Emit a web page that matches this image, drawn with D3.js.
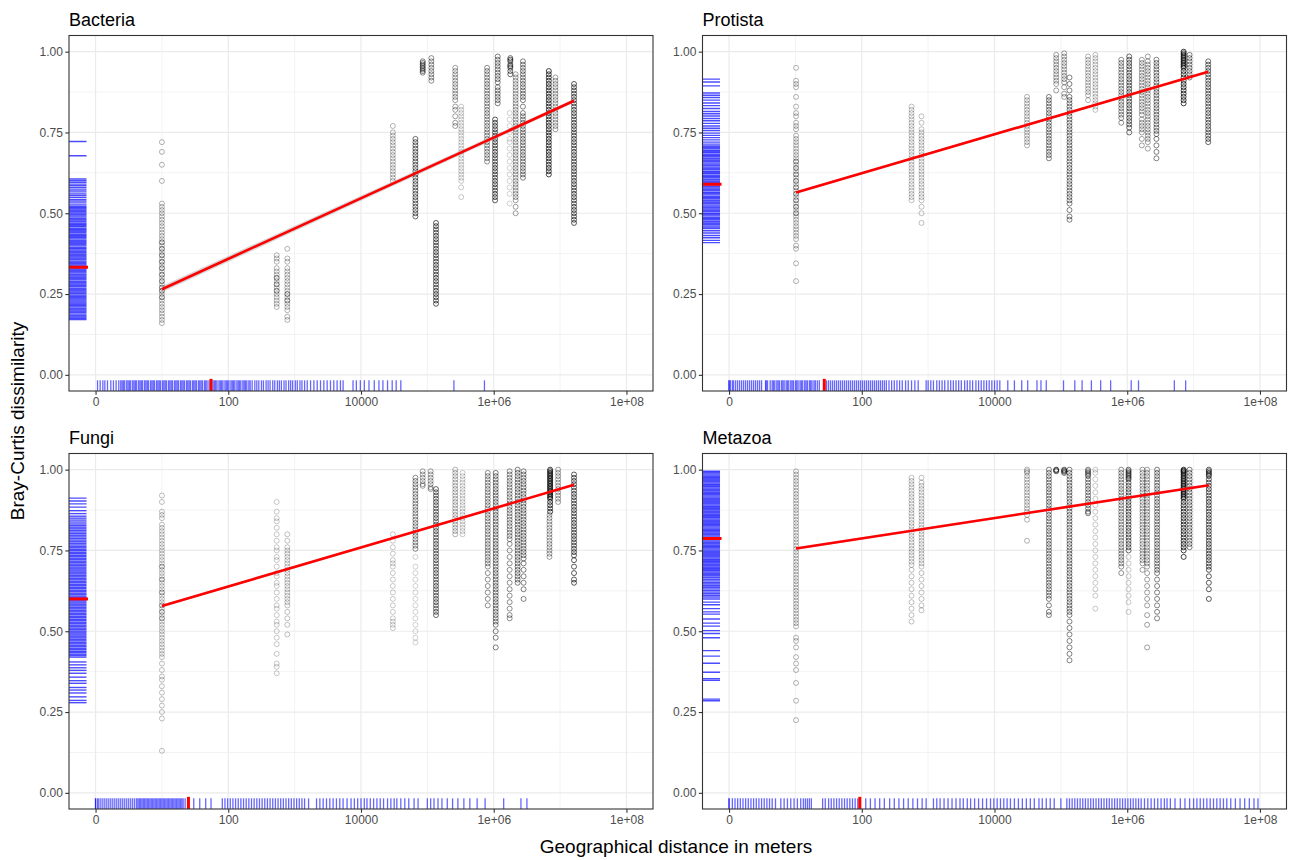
<!DOCTYPE html>
<html>
<head>
<meta charset="utf-8">
<script src="https://cdn.jsdelivr.net/npm/d3@7/dist/d3.min.js"></script>
<style>
body { margin: 0; background: #fff; }
text { font-family: "Liberation Sans", Arial, sans-serif; }
</style>
</head>
<body>
<div id="chart"></div>
<script>
// x values are log10(distance in metres), 0 = same site
var panelNames = ["Bacteria", "Protista", "Fungi", "Metazoa"];
var xTickValues = [0, 2, 4, 6, 8];
var xTickLabels = ["0", "100", "10000", "1e+06", "1e+08"];
var yTickValues = [0, 0.25, 0.5, 0.75, 1];

// point columns: [log10 distance, pairs per listed value, dissimilarity in %]
var bacteriaCols = [
  [1.00, 1.5, [72,69,65,60,53,52,51,50,49,48,47,46,45,44,43,42,41,40,39,38,37,36,35,34,33,32,31,30,29,28,27,26,25,24,23,22,21,20,19,18,17,16,27,29,31,33,35,37,39,41,26,24]],
  [2.73, 1.5, [37,36,35,33,32,31,30,29,28,27,26,25,24,23,22,21,30,28,26]],
  [2.89, 1.5, [39,36,35,33,32,31,30,29,28,27,26,25,24,23,22,21,20,18,17,25,23]],
  [4.48, 1.5, [77,75,74,73,72,71,70,69,68,67,66,65,64,63,62,61,60]],
  [4.82, 4, [73,72,71,70,69,68,67,66,65,64,63,62,61,60,59,58,57,56,55,54,53,52,51,50,49]],
  [4.93, 3, [97,96.5,96,95.5,95,94.5,94,93.5]],
  [5.06, 2.5, [98,97,96,95,94,93,92,91]],
  [5.13, 5, [47,46,45,44,43,42,41,40,39,38,37,36,35,34,33,32,31,30,29,28,27,26,25,24,23,22]],
  [5.42, 2, [95,94,93,92,91,90,89,88,87,86,85,83,82,80,78,77]],
  [5.51, 1, [83,82,81,80,79,78,77,76,75,74,73,72,71,70,69,68,67,66,65,64,63,62,61,60,58,55]],
  [5.90, 2.5, [95,94,93,92,91,90,89,88,87,86,85,84,83,82,81,80,79,78,77,76,75,74,73,72,71,70,69,68,67,66]],
  [6.02, 5, [79,78,77,76,75,74,73,72,71,70,69,68,67,66,65,64,63,62,61,60,59,58,57,56,55,54]],
  [6.06, 3, [98.5,97.5,96.5,95.5,94.5,93.5,92.5,91.5,90.5,89,88,87,86,85,84]],
  [6.25, 4, [98,97.5,97,96,95.5,95,94,93]],
  [6.24, 0.8, [81,79,77,75,73,72,70,68,66,64,62,60,58,56,53]],
  [6.33, 2, [93,92,91,90,89,88,87,86,85,84,83,82,81,80,79,78,77,76,75,74,73,72,71,70,69,68,67,66,65,64,63,62,61,60,59,58,57,56,55,54,52,50]],
  [6.44, 3, [97,96,95,94,93,92,91,90,89,88,87,86,85,83,81,80,79,78,77,76,75,74,73,72,71,70,69,68,67,66,65,64,63,62,61]],
  [6.83, 8, [94,93,92,91,90,89,88,87,86,85,84,83,82,81,80,79,78,77,76,75,74,73,72,71,70,69,68,67,66,65,64,63,62]],
  [6.93, 2, [92,91,90,89,88,87,86,85,84,83,82,81,80,79,78,77,76]],
  [7.21, 5, [90,89,88,87,86,85,84,83,82,81,80,79,78,77,76,75,74,73,72,71,70,69,68,67,66,65,64,63,62,61,60,59,58,57,56,55,54,53,52,51,50,49,48,47]]
];
var protistaCols = [
  [1.01, 1.5, [95,91,90,89,86,83,81,80,78,77,76,74,73,72,71,70,69,68,67,66,65,64,63,62,61,60,59,58,57,56,55,54,53,52,51,50,49,48,47,46,45,44,43,42,40,39,34.5,29,66,64,62,60,58,56,54,52,50]],
  [2.75, 1.2, [83,82,81,80,79,78,77,76,75,74,73,72,71,70,69,68,67,66,65,64,63,62,61,60,59,58,57,56,55,54]],
  [2.90, 1.2, [80,78,76,75,74,73,72,71,70,69,68,67,66,65,64,63,62,61,60,59,58,57,56,55,54,52,50,47]],
  [4.49, 1.5, [86,85,84,83,82,81,80,79,78,77,76,75,74,73,72,71]],
  [4.82, 3, [86,85,84,83,82,81,80,79,78,77,76,75,74,73,72,71,70,69,68,67]],
  [4.93, 2, [99,98,97,96,95,94,93,92,91,90,88]],
  [5.05, 2, [99.5,98.5,97.5,96.5,95.5,94.5,93.5,92.5,91.5,90.5,89,87,86]],
  [5.13, 3, [92,90,88,86,85,84,83,82,81,80,79,78,77,76,75,74,73,72,71,70,69,68,67,66,65,64,63,62,61,60,59,58,57,56,55,54,53,51,49,48]],
  [5.41, 1.5, [98.5,97.5,96.5,95.5,94.5,93.5,92.5,91.5,90.5,89.5,88.5,87.5,86.5,85]],
  [5.52, 1.2, [99,98,97,96,95,94,93,92,91,90,89,88,87,86,85,84,83,82]],
  [5.91, 2.5, [97.5,96.5,95.5,94.5,93.5,92.5,91.5,90.5,89.5,88.5,87.5,86.5,85.5,84.5,83.5,82.5,81.5,80.5,79.5,78]],
  [6.03, 4, [98.5,97.5,96.5,95.5,94.5,93.5,92.5,91.5,90.5,89.5,88.5,87.5,86.5,85.5,84.5,83.5,82.5,81.5,80.5,79.5,78.5,77.5,76.5,75]],
  [6.22, 2, [97.5,96.5,95.5,94.5,93.5,92.5,91.5,90.5,89.5,88.5,87.5,86.5,85.5,84.5,83.5,82.5,81.5,80.5,79,78,77,76,75,73,71]],
  [6.31, 2, [98.5,97,96,95,94,93,92,91,90,89,88,87,86,85,84,83,82,81,80,79,78,77,76,75,74,73,72,70]],
  [6.44, 3, [97.5,96.5,95.5,94.5,93.5,92.5,91.5,90.5,89.5,88.5,87.5,86.5,85.5,84.5,83.5,82.5,81.5,80.5,79.5,78.5,77.5,76.5,75.5,74.5,73,71,69,67]],
  [6.85, 8, [100,99.5,99,98.5,98,97.5,97,96.5,96,95.5,95,94,93,92,91,90,89,88,87,86,85,84]],
  [6.94, 3, [99,98,97,96,95,94,93,92]],
  [7.22, 4, [97,96,95,94,93,92,91,90,89,88,87,86,85,84,83,82,81,80,79,78,77,76,75,74,73,72]]
];
var fungiCols = [
  [1.00, 1.2, [92,90,87,86,85,83,82,81,80,79,78,77,76,75,74,73,72,71,70,69,68,67,66,65,64,63,62,61,60,59,58,57,56,55,54,53,52,51,50,49,48,47,46,45,44,43,42,40,38,36,35,33,31,29,27,25,23,13,70,66,62,58,56,54]],
  [2.73, 1, [90,87,85,84,82,80,78,76,75,73,72,70,68,67,65,64,62,60,58,57,55,53,52,50,48,46,43,40,39,37]],
  [2.89, 1.2, [80,78,76,75,74,73,72,71,70,69,68,67,66,65,64,63,62,61,60,59,58,56,54,52,49]],
  [4.48, 1, [80,78,76,74,72,71,70,68,66,64,62,60,58,56,54,53,52,51]],
  [4.82, 2.5, [97.5,96.5,95.5,94.5,93.5,92.5,91.5,90.5,89.5,88.5,87.5,86.5,85.5,84.5,83.5,82.5,81.5,80.5,79.5,78.5,77.5,76.5,75.5]],
  [4.82, 0.8, [73,70,68,66,64,62,60,58,56,54,52,50,48,46.5]],
  [4.93, 2, [99.5,98.5,97.5,96.5,95.5,95]],
  [5.05, 2, [99.5,98.5,97.5,96.5,95.5,94.5,94]],
  [5.13, 4, [94,93,92,91,90,89,88,87,86,85,84,83,82,81,80,79,78,77,76,75,74,73,72,71,70,69,68,67,66,65,64,63,62,61,60,59,58,57,56,55]],
  [5.42, 1.5, [100,99,98,97,96,95,94,93,92,91,90,89,88,87,86,85,84,83,82,81,80]],
  [5.53, 1, [99,98,97,96,95,94,93,92,91,90,89,88,87,86,85,84,83,82,81,80]],
  [5.91, 2.5, [99,98,97,96,95,94,93,92,91,90,89,88,87,86,85,84,83,82,81,80,79,78,77,76,75,74,73,72,71,70,68,66,64,62,60,58]],
  [6.03, 3, [99,98,97,96,95,94,93,92,91,90,89,88,87,86,85,84,83,82,81,80,79,78,77,76,75,74,73,72,71,70,69,68,67,66,65,64,63,62,61,60,59,58,57,56,55,54,53,52,50,48,45]],
  [6.24, 2.5, [99.5,98.5,97.5,96.5,95.5,94.5,93.5,92.5,91.5,90.5,89.5,88.5,87.5,86.5,85.5,84.5,83.5,82.5,81.5,80.5,79.5,78.5,77,75,73,71,69,67,65,63,61,59,57,55,54]],
  [6.36, 3, [100,99,98,97,96,95,94,93,92,91,90,89,88,87,86,85,84,83,82,81,80,79,78,77,76,75,74,73,72,71,70,69,68,67,66,65]],
  [6.45, 3, [99.5,98.5,97.5,96.5,95.5,94.5,93.5,92.5,91.5,90.5,89.5,88.5,87.5,86.5,85.5,84.5,83.5,82.5,81.5,80.5,79.5,78.5,77.5,76.5,75.5,74.5,73.5,72.5,71,69,67,65,63,60]],
  [6.85, 8, [100,99.5,99,98.5,98,97.5,97,96.5,96,95.5,95,94.5,94,93.5,93,92.5,92,91.5,91,90,89,88,87]],
  [6.84, 2, [86,85,84,83,82,81,80,79,78,77,76,75,74,73]],
  [6.97, 2, [100,99,98,97,96,95,94,93,92,91,90]],
  [7.21, 5, [98.5,97.5,96.5,95.5,94.5,93.5,92.5,91.5,90.5,89.5,88.5,87.5,86.5,85.5,84.5,83.5,82.5,81.5,80.5,79.5,78.5,77.5,76.5,75.5,74.5,73.5,72,70,68,66,65]]
];
var metazoaCols = [
  [1.01, 1.5, [99.5,98.5,97.5,96.5,95.5,94.5,93.5,92.5,91.5,90.5,89.5,88.5,87.5,86.5,85.5,84.5,83.5,82.5,81.5,80.5,79.5,78.5,77.5,76.5,75.5,74.5,73.5,72.5,71.5,70.5,69.5,68.5,67.5,66.5,65.5,64.5,63.5,62.5,61.5,60.5,59.5,58.5,57.5,56.5,55.5,54.5,53.5,52.5,51.5,48,47,45,42,40,38,34,28.5,22.5]],
  [2.75, 1.2, [97.5,96.5,95.5,94.5,93.5,92.5,91.5,90.5,89.5,88.5,87.5,86.5,85.5,84.5,83.5,82.5,81.5,80.5,79.5,78.5,77.5,76.5,75.5,74.5,73.5,72.5,71.5,70.5,69,67,65,63,61,59,57,55,53]],
  [2.90, 1.2, [97.5,96,95,94,93,92,91,90,89,88,87,86,85,84,83,82,81,80,79,78,77,76,75,74,73,72,71,70,68,66,64,62,60,58,56.5]],
  [4.49, 1.5, [100,99.5,99,98,97,96,95,94,93,92,91,90,89,88,87,86,84.5,78]],
  [4.82, 3, [100,99,98,97,96,95,94,93,92,91,90,89,88,87,86,85,84,83,82,81,80,79,78,77,76,75,74,73,72,71,70,69,68,67,66,65,64,63,62,61,60,58,56,55]],
  [4.93, 4, [100,99.8,99.5]],
  [5.05, 4, [100,99.7,99.4,99]],
  [5.13, 3, [100,99,98,97,96,95,94,93,92,91,90,89,88,87,86,85,84,83,82,81,80,79,78,77,76,75,74,73,72,71,70,69,68,67,66,65,64,63,62,61,60,59,58,57,56,55,53,51,49,47,45,43,41]],
  [5.41, 3, [100,99.5,99,98.5,98,97,96,95,94,93,92,91,90,89,88,87,86.5]],
  [5.52, 1, [100,99,97,95,93,91,89,87,85,83,81,79,77,75,73,71,69,67,65,63,61,57]],
  [5.91, 2.5, [100,99,98,97,96,95,94,93,92,91,90,89,88,87,86,85,84,83,82,81,80,79,78,77,76,75,74,73,72,71,70,68]],
  [6.02, 4, [100,99.5,99,98.5,98,97.5,97,96,95,94,93,92,91,90,89,88,87,86,85,84,83,82,81,80,79,78,77,76,75]],
  [6.02, 1, [73,71,69,67,65,63,61,59,56]],
  [6.23, 2, [100,99,98,97,96,95,94,93,92,91,90,89,88,87,86,85,84,83,82,81,80,79,78,77,76,75,74,73,72,71,69]],
  [6.30, 2, [100,99,98,97,96,95,94,93,92,91,90,89,88,87,86,85,84,83,82,81,80,79,78,77,76,75,74,73,72,71,70,68,66,64,62,60,58,55,52,45]],
  [6.45, 3, [100,99,98,97,96,95,94,93,92,91,90,89,88,87,86,85,84,83,82,81,80,79,78,77,76,75,74,73,72,71,70,69,68,66,64,62,60,58,56,54]],
  [6.85, 8, [100,99.7,99.4,99,98.5,98,97.5,97,96.5,96,95.5,95,94.5,94,93.5,93,92.5,92,91.5,91,90,89,88,87,86,85,84,83,82,81,80,79,78,77,76,75,73]],
  [6.94, 3, [100,99,98,97,96,95,94,93,92,91,90,89,88,87,86,85,84,83,82,81,80,79,78,77,76]],
  [7.23, 5, [100,99.5,99,98.5,98,97,96,95,94,93,92,91,90,89,88,87,86,85,84,83,82,81,80,79,78,77,76,75,74,73,72,71,70,69,67,65,63,60]]
];

// left rugs: dissimilarity in %
var bacteriaYRug = [72.2,67.8,60.6,60.1,59.6,59.0,58.5,57.9,57.2,56.6,56.0,55.5,54.9,54.3,53.8,53.2,52.6,52.1,51.7,51.3,50.9,50.5,50.1,49.6,49.2,48.8,48.3,47.9,47.5,47.0,46.6,46.2,45.8,45.3,44.9,44.5,44.1,43.6,43.2,42.8,42.4,42.0,41.5,41.1,40.7,40.3,39.9,39.4,39.0,38.6,38.2,37.8,37.3,36.9,36.5,36.1,35.7,35.2,34.8,34.4,34.0,33.6,33.1,32.7,32.3,31.9,31.5,31.0,30.6,30.2,29.8,29.4,28.9,28.5,28.1,27.7,27.3,26.8,26.4,26.0,25.6,25.2,24.7,24.3,23.9,23.5,23.1,22.6,22.2,21.8,21.4,21.0,20.5,20.1,19.7,19.3,18.8,18.3,17.9,17.5,17.1];
var protistaYRug = [91.5,90.6,89.4,87.2,86.5,85.8,85.0,84.1,83.3,82.4,81.5,80.8,80.1,79.3,78.6,77.8,77.0,76.3,75.6,74.8,74.1,73.4,72.7,72.0,71.4,70.8,70.4,70.0,69.5,69.1,68.7,68.2,67.8,67.4,66.9,66.5,66.1,65.6,65.2,64.8,64.3,63.9,63.5,63.0,62.6,62.2,61.7,61.3,60.9,60.4,60.0,59.6,59.1,58.7,58.3,57.8,57.4,57.0,56.5,56.1,55.7,55.2,54.8,54.4,53.9,53.5,53.1,52.6,52.2,51.8,51.3,50.9,50.5,50.0,49.6,49.2,48.7,48.3,47.9,47.4,47.0,46.6,46.1,45.7,45.3,44.6,43.9,43.1,42.4,41.6,40.9];
var fungiYRug = [91.2,90.3,89.4,88.4,87.3,86.4,85.6,85.0,84.4,83.8,83.2,82.7,82.2,81.7,81.2,80.7,80.2,79.7,79.2,78.7,78.2,77.7,77.2,76.7,76.2,75.8,75.3,74.9,74.4,74.0,73.5,73.1,72.6,72.2,71.7,71.3,70.8,70.4,69.9,69.5,69.0,68.6,68.1,67.7,67.2,66.8,66.3,65.9,65.4,65.0,64.5,64.1,63.6,63.2,62.7,62.3,61.8,61.4,60.9,60.5,60.0,59.6,59.1,58.7,58.2,57.8,57.3,56.9,56.4,56.0,55.5,55.1,54.6,54.2,53.7,53.3,52.8,52.4,51.9,51.5,51.0,50.6,50.1,49.7,49.2,48.8,48.3,47.9,47.4,47.0,46.5,46.1,45.6,45.2,44.7,44.3,43.8,43.4,42.9,42.5,42.0,40.5,39.6,38.7,37.9,37.0,35.8,34.7,33.9,32.6,31.8,30.9,29.7,28.6,27.9];
var metazoaYRug = [99.5,99.1,98.7,98.3,97.9,97.5,97.1,96.7,96.3,95.9,95.5,95.1,94.7,94.3,93.9,93.5,93.1,92.7,92.3,91.9,91.5,91.1,90.7,90.3,89.9,89.5,89.1,88.7,88.3,87.9,87.5,87.1,86.7,86.3,85.9,85.5,85.1,84.7,84.3,83.9,83.5,83.1,82.7,82.3,81.9,81.5,81.1,80.7,80.3,79.9,79.5,79.1,78.7,78.3,77.9,77.5,77.1,76.7,76.3,75.9,75.5,75.1,74.7,74.3,73.9,73.5,73.1,72.7,72.3,71.9,71.5,71.1,70.7,70.3,69.9,69.5,69.1,68.7,68.3,67.9,67.5,67.1,66.6,66.1,65.6,65.1,64.6,64.1,63.6,63.1,62.6,62.1,61.6,61.1,60.6,60.0,59.0,58.2,57.0,56.0,55.3,53.8,52.5,51.6,50.2,49.3,48.0,44.0,42.3,40.1,37.3,35.3,34.8,29.0,28.5];

// bottom rugs: log10 distance
var bacteriaXRug = [0.03,0.07,0.11,0.14,0.18,0.23,0.27,0.31,0.35,0.38,0.40,0.42,0.44,0.47,0.49,0.51,0.53,0.56,0.58,0.60,0.62,0.65,0.67,0.69,0.71,0.74,0.76,0.78,0.80,0.83,0.85,0.87,0.89,0.92,0.94,0.96,0.98,1.01,1.03,1.05,1.07,1.10,1.12,1.14,1.16,1.19,1.21,1.23,1.25,1.28,1.30,1.32,1.34,1.37,1.39,1.41,1.43,1.46,1.48,1.50,1.52,1.55,1.57,1.59,1.61,1.64,1.66,1.68,1.71,1.77,1.79,1.81,1.83,1.86,1.88,1.90,1.92,1.95,1.97,1.99,2.01,2.04,2.06,2.08,2.10,2.13,2.15,2.17,2.19,2.22,2.24,2.26,2.28,2.31,2.33,2.36,2.40,2.43,2.46,2.50,2.53,2.57,2.60,2.63,2.67,2.70,2.74,2.77,2.80,2.84,2.87,2.91,2.94,2.97,3.01,3.04,3.08,3.11,3.15,3.19,3.24,3.29,3.34,3.39,3.44,3.49,3.54,3.59,3.64,3.69,3.73,3.88,3.93,3.99,4.05,4.12,4.20,4.27,4.33,4.40,4.47,4.53,4.60,5.40,5.86];
var protistaXRug = [0,0,0.02,0.05,0.07,0.10,0.13,0.16,0.19,0.22,0.25,0.28,0.31,0.34,0.37,0.40,0.43,0.46,0.49,0.55,0.56,0.58,0.62,0.65,0.67,0.69,0.72,0.74,0.76,0.79,0.81,0.83,0.86,0.88,0.90,0.93,0.95,0.97,1.00,1.02,1.04,1.07,1.09,1.11,1.14,1.16,1.18,1.21,1.23,1.25,1.28,1.30,1.33,1.36,1.47,1.50,1.53,1.56,1.59,1.62,1.65,1.68,1.71,1.74,1.77,1.80,1.83,1.86,1.89,1.92,1.95,1.98,2.01,2.04,2.07,2.10,2.13,2.16,2.19,2.22,2.25,2.28,2.31,2.34,2.37,2.41,2.45,2.49,2.53,2.57,2.61,2.66,2.70,2.75,2.80,2.85,2.97,3.00,3.04,3.08,3.13,3.17,3.21,3.25,3.30,3.34,3.38,3.42,3.46,3.50,3.55,3.59,3.63,3.67,3.72,3.76,3.80,3.84,3.88,3.92,3.96,4.00,4.04,4.08,4.20,4.30,4.41,4.50,4.64,4.70,4.78,5.04,5.21,5.32,5.46,5.60,5.75,6.06,6.17,6.71,6.88];
var fungiXRug = [0,0,0.03,0.05,0.08,0.11,0.14,0.17,0.20,0.23,0.26,0.29,0.32,0.35,0.38,0.41,0.44,0.47,0.50,0.53,0.56,0.59,0.62,0.64,0.66,0.68,0.70,0.72,0.74,0.76,0.78,0.80,0.82,0.84,0.86,0.88,0.90,0.92,0.94,0.96,0.98,1.00,1.02,1.04,1.06,1.08,1.10,1.12,1.14,1.16,1.18,1.20,1.22,1.24,1.26,1.28,1.30,1.32,1.35,1.48,1.57,1.66,1.74,1.91,1.95,1.99,2.03,2.07,2.11,2.15,2.19,2.23,2.27,2.31,2.35,2.39,2.43,2.47,2.51,2.55,2.59,2.63,2.67,2.71,2.75,2.79,2.83,2.87,2.91,2.95,2.99,3.03,3.07,3.11,3.15,3.21,3.33,3.38,3.43,3.48,3.53,3.58,3.63,3.68,3.73,3.79,3.85,3.90,3.95,4.00,4.05,4.09,4.14,4.19,4.24,4.29,4.34,4.40,4.45,4.50,4.54,4.60,4.66,4.72,4.80,4.86,5.00,5.05,5.10,5.16,5.22,5.30,5.38,5.46,5.55,5.64,5.75,5.87,6.15,6.41,6.50];
var metazoaXRug = [0,0,0.05,0.09,0.13,0.17,0.21,0.25,0.29,0.33,0.37,0.41,0.45,0.49,0.53,0.57,0.61,0.65,0.70,0.78,0.83,0.88,0.93,0.98,1.03,1.08,1.12,1.15,1.18,1.21,1.24,1.41,1.45,1.50,1.54,1.58,1.62,1.66,1.70,1.74,1.78,1.82,1.86,1.90,1.94,2.06,2.13,2.20,2.27,2.34,2.42,2.49,2.56,2.63,2.70,2.77,2.84,2.91,2.97,3.08,3.13,3.18,3.24,3.30,3.36,3.42,3.48,3.53,3.59,3.64,3.70,3.76,3.82,3.88,3.94,3.99,4.04,4.09,4.14,4.19,4.24,4.30,4.36,4.42,4.48,4.54,4.60,4.67,4.72,4.78,4.84,4.90,5.00,5.09,5.13,5.17,5.21,5.25,5.29,5.33,5.37,5.41,5.45,5.49,5.53,5.57,5.61,5.65,5.69,5.73,5.77,5.81,5.85,5.89,5.93,5.97,6.01,6.05,6.09,6.13,6.17,6.21,6.26,6.31,6.36,6.41,6.46,6.51,6.56,6.60,6.65,6.72,6.80,6.87,6.94,7.00,7.05,7.10,7.15,7.20,7.25,7.30,7.35,7.40,7.45,7.50,7.56,7.63,7.70,7.77,7.84,7.91,7.97];

// linear fit ends [log10 distance, dissimilarity, standard error]
var bacteriaFit = [[1.00, 0.265, 0.005], [7.21, 0.848, 0.003]];
var protistaFit = [[1.01, 0.564, 0.002], [7.22, 0.938, 0.0015]];
var fungiFit = [[1.00, 0.578, 0.002], [7.21, 0.953, 0.0015]];
var metazoaFit = [[1.01, 0.756, 0.002], [7.23, 0.952, 0.0015]];

// red rug marks: [dissimilarity, log10 distance]
var bacteriaMark = [0.333, 1.74];
var protistaMark = [0.59, 1.435];
var fungiMark = [0.60, 1.40];
var metazoaMark = [0.787, 1.97];

var panels = [
  { name: panelNames[0], cols: bacteriaCols, yRug: bacteriaYRug, xRug: bacteriaXRug, fit: bacteriaFit, mark: bacteriaMark },
  { name: panelNames[1], cols: protistaCols, yRug: protistaYRug, xRug: protistaXRug, fit: protistaFit, mark: protistaMark },
  { name: panelNames[2], cols: fungiCols, yRug: fungiYRug, xRug: fungiXRug, fit: fungiFit, mark: fungiMark },
  { name: panelNames[3], cols: metazoaCols, yRug: metazoaYRug, xRug: metazoaXRug, fit: metazoaFit, mark: metazoaMark }
];

var width = 1290, height = 860;
var panelW = 584, panelH = 355.5;
var panelPos = [[69, 35.5], [702.5, 35.5], [69, 453.5], [702.5, 453.5]];

var svg = d3.select("#chart").append("svg").attr("width", width).attr("height", height);

var x = d3.scaleLinear().domain([-0.4, 8.4]).range([0, panelW]);
var y = d3.scaleLinear().domain([-0.05, 1.05]).range([panelH, 0]);
var baseAlpha = 0.27;
var rugX = 0.03 * panelW, rugY = 0.03 * panelH;

panels.forEach(function(p, i) {
  var g = svg.append("g").attr("transform", "translate(" + panelPos[i][0] + "," + panelPos[i][1] + ")");

  g.append("clipPath").attr("id", "clip" + i).append("rect").attr("width", panelW).attr("height", panelH);

  // grid
  var grid = g.append("g");
  grid.selectAll(".vminor").data([1, 3, 5, 7]).enter().append("line")
    .attr("x1", function(d) { return x(d); }).attr("x2", function(d) { return x(d); })
    .attr("y1", 0).attr("y2", panelH).attr("stroke", "#ebebeb").attr("stroke-width", 0.6);
  grid.selectAll(".hminor").data([0.125, 0.375, 0.625, 0.875]).enter().append("line")
    .attr("y1", function(d) { return y(d); }).attr("y2", function(d) { return y(d); })
    .attr("x1", 0).attr("x2", panelW).attr("stroke", "#ebebeb").attr("stroke-width", 0.6);
  grid.selectAll(".vmajor").data(xTickValues).enter().append("line")
    .attr("x1", function(d) { return x(d); }).attr("x2", function(d) { return x(d); })
    .attr("y1", 0).attr("y2", panelH).attr("stroke", "#ebebeb").attr("stroke-width", 1.2);
  grid.selectAll(".hmajor").data(yTickValues).enter().append("line")
    .attr("y1", function(d) { return y(d); }).attr("y2", function(d) { return y(d); })
    .attr("x1", 0).attr("x2", panelW).attr("stroke", "#ebebeb").attr("stroke-width", 1.2);

  var plot = g.append("g").attr("clip-path", "url(#clip" + i + ")");

  // points
  p.cols.forEach(function(c) {
    plot.append("g").selectAll("circle")
      .data(c[2])
      .enter()
      .append("circle")
      .attr("cx", x(c[0]))
      .attr("cy", function(d) { return y(d / 100); })
      .attr("r", 2.5)
      .attr("fill", "none")
      .attr("stroke", "#000")
      .attr("stroke-width", 0.8)
      .attr("stroke-opacity", 1 - Math.pow(1 - baseAlpha, c[1]));
  });

  // fit ribbon and line
  plot.append("path")
    .datum(p.fit)
    .attr("d", d3.area()
      .x(function(d) { return x(d[0]); })
      .y0(function(d) { return y(d[1] - 1.96 * d[2]); })
      .y1(function(d) { return y(d[1] + 1.96 * d[2]); }))
    .attr("fill", "#999999").attr("fill-opacity", 0.4);
  plot.append("path")
    .datum(p.fit)
    .attr("d", d3.line().x(function(d) { return x(d[0]); }).y(function(d) { return y(d[1]); }))
    .attr("fill", "none").attr("stroke", "#ff0000").attr("stroke-width", 2.6);

  // rugs
  plot.append("g").selectAll("line").data(p.yRug).enter().append("line")
    .attr("x1", 0).attr("x2", rugX)
    .attr("y1", function(d) { return y(d / 100); }).attr("y2", function(d) { return y(d / 100); })
    .attr("stroke", "#0000ff").attr("stroke-opacity", 0.7).attr("stroke-width", 1.4);
  plot.append("g").selectAll("line").data(p.xRug).enter().append("line")
    .attr("y1", panelH).attr("y2", panelH - rugY)
    .attr("x1", function(d) { return x(d); }).attr("x2", function(d) { return x(d); })
    .attr("stroke", "#0000ff").attr("stroke-opacity", 0.6).attr("stroke-width", 1.3);

  plot.append("line")
    .attr("x1", 0).attr("x2", rugX + 1.5)
    .attr("y1", y(p.mark[0])).attr("y2", y(p.mark[0]))
    .attr("stroke", "#ff0000").attr("stroke-width", 3);
  plot.append("line")
    .attr("y1", panelH).attr("y2", panelH - rugY - 1.5)
    .attr("x1", x(p.mark[1])).attr("x2", x(p.mark[1]))
    .attr("stroke", "#ff0000").attr("stroke-width", 3);

  // border
  g.append("rect").attr("width", panelW).attr("height", panelH)
    .attr("fill", "none").attr("stroke", "#333333").attr("stroke-width", 1.1);

  // axes
  var ya = g.append("g")
    .call(d3.axisLeft(y).tickValues(yTickValues).tickFormat(d3.format(".2f")).tickSize(3.7).tickPadding(2.5));
  var xa = g.append("g").attr("transform", "translate(0," + panelH + ")")
    .call(d3.axisBottom(x).tickValues(xTickValues).tickFormat(function(d, k) { return xTickLabels[k]; }).tickSize(3.7).tickPadding(3));
  [ya, xa].forEach(function(a) {
    a.select(".domain").remove();
    a.selectAll(".tick line").attr("stroke", "#333333").attr("stroke-width", 1.1);
    a.selectAll(".tick text").attr("fill", "#4d4d4d").style("font-size", "12px")
      .style("font-family", "'Liberation Sans', Arial, sans-serif");
  });

  g.append("text").attr("x", 0).attr("y", -10)
    .style("font-size", "18px").attr("fill", "#000").text(p.name);
});

svg.append("text")
  .attr("x", 676).attr("y", 853)
  .attr("text-anchor", "middle").style("font-size", "19px")
  .text("Geographical distance in meters");
svg.append("text")
  .attr("transform", "translate(24,421) rotate(-90)")
  .attr("text-anchor", "middle").style("font-size", "19px")
  .text("Bray-Curtis dissimilarity");
</script>
</body>
</html>
